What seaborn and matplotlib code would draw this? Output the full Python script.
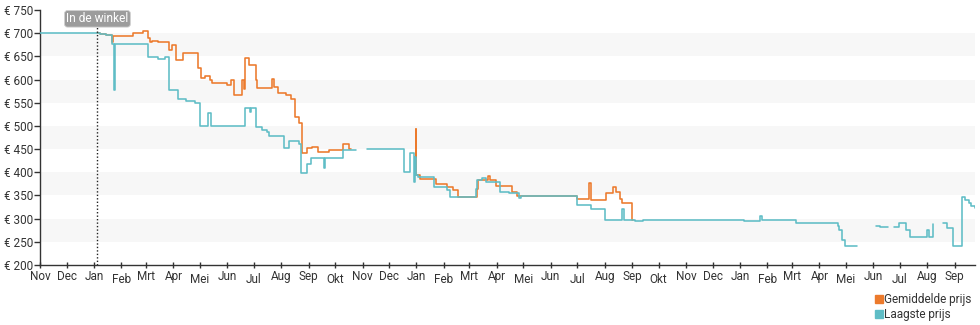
import numpy as np
import pandas as pd
import matplotlib
matplotlib.use("Agg")
import matplotlib.pyplot as plt
import seaborn as sns
from matplotlib.lines import Line2D

# ---------------- data ----------------
low_dates = [
    "2022-11-01", "2023-01-08", "2023-01-15", "2023-01-21", "2023-01-24", "2023-01-25",
    "2023-03-03", "2023-03-15", "2023-03-22", "2023-03-27", "2023-04-06", "2023-04-15",
    "2023-04-25", "2023-05-01", "2023-05-10", "2023-05-13", "2023-06-21", "2023-06-27",
    "2023-06-28", "2023-07-03", "2023-07-10", "2023-07-16", "2023-07-18", "2023-08-04",
    "2023-08-10", "2023-08-21", "2023-08-23", "2023-08-30", "2023-09-04", "2023-09-18",
    "2023-09-20", "2023-10-10", "2023-10-25", "2023-10-26",
    "2023-11-06", "2023-12-18", "2023-12-25", "2023-12-29", "2023-12-30", "2024-01-01",
    "2024-01-03", "2024-01-21", "2024-02-05", "2024-02-08", "2024-03-08", "2024-03-10",
    "2024-03-15", "2024-03-20", "2024-04-04", "2024-04-15", "2024-04-26", "2024-04-28",
    "2024-07-01", "2024-07-16", "2024-08-01", "2024-08-20", "2024-08-23", "2024-09-04",
    "2024-09-13", "2025-01-06", "2025-01-24", "2025-01-26", "2025-03-05", "2025-03-31",
    "2025-04-22", "2025-04-23", "2025-04-27", "2025-04-30", "2025-05-14", "2025-05-15",
    "2025-06-04", "2025-06-09", "2025-06-17", "2025-06-18",
    "2025-06-24", "2025-06-30", "2025-07-07", "2025-07-08", "2025-07-12", "2025-08-01",
    "2025-08-03", "2025-08-07", "2025-08-08", "2025-08-09",
    "2025-08-19", "2025-08-23", "2025-08-30", "2025-09-09", "2025-09-13", "2025-09-17",
    "2025-09-20", "2025-09-24",
]
low_values = [
    700, 699, 697, 677, 578, 677,
    648, 645, 648, 578, 558, 553,
    549, 499, 528, 499, 539, 530,
    539, 497, 492, 487, 478, 453,
    467, 460, 398, 418, 430, 409,
    430, 449, 449, np.nan,
    450, 401, 441, 380, 433, 394,
    390, 369, 362, 347, 365, 383,
    387, 380, 358, 355, 344, 349,
    329, 320, 298, 320, 298, 294,
    298, 295, 306, 298, 291, 290,
    284, 275, 254, 241, 241, np.nan,
    285, 283, 283, np.nan,
    283, 291, 291, 275, 261, 275,
    261, 288, 288, np.nan,
    290, 280, 240, 347, 340, 333,
    327, 322,
]

avg_dates = [
    "2023-01-05", "2023-01-08", "2023-01-15", "2023-01-21", "2023-01-23", "2023-02-14",
    "2023-02-25", "2023-03-03", "2023-03-05", "2023-03-08", "2023-03-14", "2023-03-27",
    "2023-03-30", "2023-04-04", "2023-04-12", "2023-04-29", "2023-05-02", "2023-05-07",
    "2023-05-12", "2023-05-15", "2023-06-01", "2023-06-05", "2023-06-09", "2023-06-18",
    "2023-06-20", "2023-06-21", "2023-06-26", "2023-07-03", "2023-07-05", "2023-07-22",
    "2023-07-24", "2023-07-28", "2023-08-06", "2023-08-12", "2023-08-17", "2023-08-21",
    "2023-08-24", "2023-08-30", "2023-09-05", "2023-09-12", "2023-09-24", "2023-10-10",
    "2023-10-17", "2023-10-19", "2023-10-20",
    "2023-12-30", "2023-12-31", "2024-01-01", "2024-01-05", "2024-01-23", "2024-02-04",
    "2024-02-11", "2024-02-17", "2024-03-09", "2024-03-11", "2024-03-22", "2024-03-24",
    "2024-03-31", "2024-04-18", "2024-04-24", "2024-07-01", "2024-07-14", "2024-07-16",
    "2024-08-03", "2024-08-10", "2024-08-14", "2024-08-18", "2024-08-20", "2024-09-01",
    "2024-09-02", "2024-09-03",
]
avg_values = [
    700, 698, 696, 682, 693, 701,
    704, 689, 680, 684, 682, 664,
    674, 642, 657, 624, 603, 608,
    599, 593, 589, 599, 567, 599,
    579, 646, 631, 599, 581, 602,
    583, 572, 567, 559, 520, 506,
    441, 452, 455, 444, 448, 462,
    450, 450, np.nan,
    434, 493, 394, 385, 374, 368,
    362, 347, 365, 383, 392, 383,
    370, 358, 349, 342, 376, 340,
    355, 368, 358, 343, 334, 298,
    298, np.nan,
]

series_names = ["Gemiddelde prijs", "Laagste prijs"]
series_colors = ["#ec7a2c", "#5fbdc6"]
month_names = ["Jan", "Feb", "Mrt", "Apr", "Mei", "Jun",
               "Jul", "Aug", "Sep", "Okt", "Nov", "Dec"]
y_ticks = [200, 250, 300, 350, 400, 450, 500, 550, 600, 650, 700, 750]
store_date = "2023-01-05"
store_label = "In de winkel"

# ---------------- figure ----------------
sns.set_theme(style="white")
plt.rcParams["font.family"] = ["Roboto", "DejaVu Sans"]

fig = plt.figure(figsize=(9.8, 3.25), dpi=100)
ax = fig.add_axes([40 / 980, 1 - 265 / 325, 935 / 980, 255 / 325])

# alternating bands
for lo in [250, 350, 450, 550, 650]:
    ax.axhspan(lo, lo + 50, color="#f7f7f7", zorder=0, lw=0)


def segments(dates, values):
    d = pd.to_datetime(pd.Series(dates))
    v = pd.Series(values, dtype=float)
    seg = v.isna().cumsum()
    df = pd.DataFrame({"date": d, "value": v, "seg": seg}).dropna()
    return [g for _, g in df.groupby("seg")]


for dates, values, color, z in [(avg_dates, avg_values, series_colors[0], 3),
                                (low_dates, low_values, series_colors[1], 4)]:
    for g in segments(dates, values):
        sns.lineplot(data=g, x="date", y="value", ax=ax, color=color,
                     drawstyle="steps-post", lw=1.15, estimator=None,
                     sort=False, zorder=z, legend=False)

# store line
sd = pd.Timestamp(store_date)
ax.axvline(sd, color="#222222", lw=1.0, ls=(0, (1, 1.5)), zorder=5)
ax.text(sd, 731, store_label, ha="center", va="center", color="white",
        fontsize=8.6, zorder=6,
        bbox=dict(boxstyle="round,pad=0.15,rounding_size=0.25",
                  fc="#9c9c9c", ec="#d0d0d0", lw=0.6))

ax.set_xlim(pd.Timestamp("2022-11-01"), pd.Timestamp("2025-09-24"))
ax.set_ylim(200, 750)
ax.set_yticks(y_ticks)
ax.set_yticklabels([f"€ {v}" for v in y_ticks])

mticks = pd.date_range("2022-11-01", "2025-09-01", freq="MS")
ax.set_xticks(mticks)
ax.set_xticklabels([month_names[t.month - 1] for t in mticks])
ax.set_xlabel("")
ax.set_ylabel("")

for s in ["top", "right"]:
    ax.spines[s].set_visible(False)
for s in ["left", "bottom"]:
    ax.spines[s].set_color("#333333")
    ax.spines[s].set_linewidth(1.0)

ax.tick_params(axis="y", length=4, width=1, color="#333333", pad=1,
               labelsize=8.5, labelcolor="#333333", left=True)
ax.tick_params(axis="x", length=5, width=1, color="#333333", pad=1,
               direction="inout", labelsize=8.5, labelcolor="#333333", bottom=True)
for t, lab in zip(ax.xaxis.get_major_ticks(), mticks):
    if lab.month in (2, 5, 7, 10):
        t.set_pad(3.5)

# legend
handles = [Line2D([], [], ls="none", marker="s", markersize=5.5,
                  color=c) for c in series_colors]
fig.legend(handles, series_names, loc="upper left",
           bbox_to_anchor=(868 / 980, 1 - 287 / 325), frameon=False,
           fontsize=8.5, handletextpad=0.05, labelspacing=0.15,
           borderpad=0, handlelength=0.8, labelcolor="#333333")

fig.savefig("out.png", dpi=100)
